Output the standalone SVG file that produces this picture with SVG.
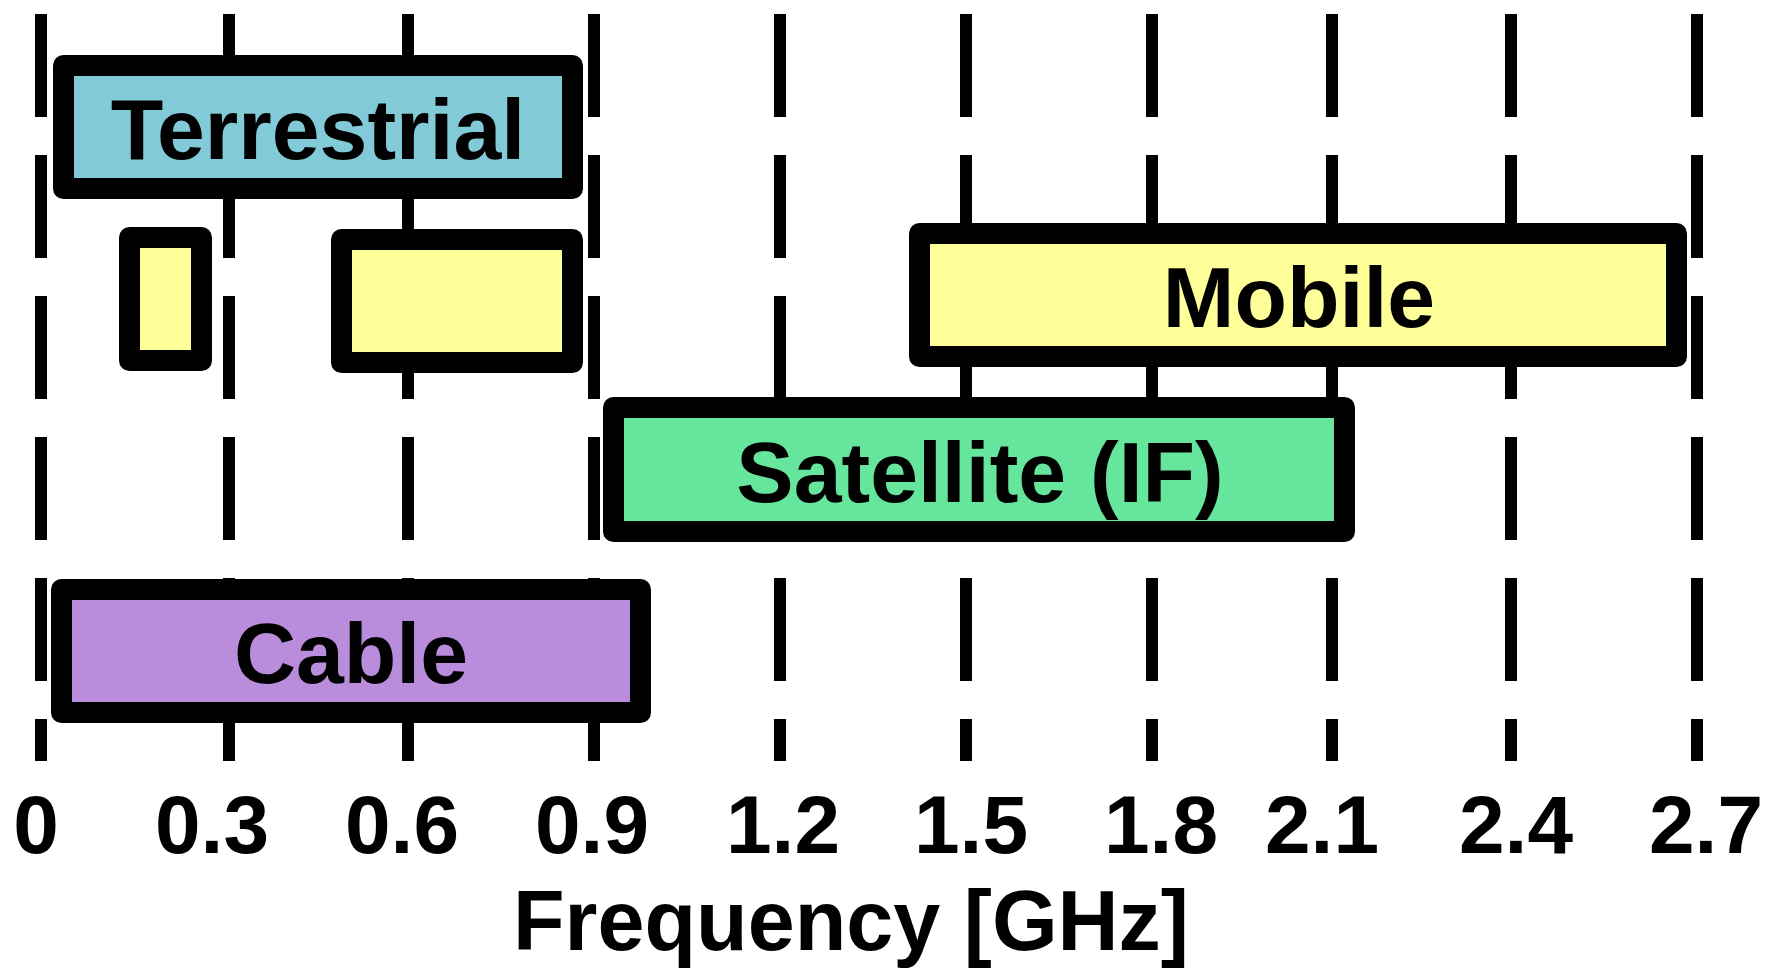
<svg xmlns="http://www.w3.org/2000/svg" width="1767" height="970" viewBox="0 0 1767 970">
<style>
.grid{stroke:#000;stroke-width:12;stroke-dasharray:103 38;fill:none}
.box{stroke:#000;stroke-width:21;stroke-linejoin:round}
.lbl{font-family:"Liberation Sans",Arial,sans-serif;font-weight:bold;font-size:86px;fill:#000;text-anchor:middle}
.tick{font-family:"Liberation Sans",Arial,sans-serif;font-weight:bold;font-size:82px;fill:#000;text-anchor:middle}
</style>
<rect width="1767" height="970" fill="#fff"/>
<g id="gridlines">
<line class="grid" x1="41" y1="14" x2="41" y2="761"/>
<line class="grid" x1="229" y1="14" x2="229" y2="761"/>
<line class="grid" x1="408" y1="14" x2="408" y2="761"/>
<line class="grid" x1="594" y1="14" x2="594" y2="761"/>
<line class="grid" x1="780" y1="14" x2="780" y2="761"/>
<line class="grid" x1="966" y1="14" x2="966" y2="761"/>
<line class="grid" x1="1152" y1="14" x2="1152" y2="761"/>
<line class="grid" x1="1332" y1="14" x2="1332" y2="761"/>
<line class="grid" x1="1511" y1="14" x2="1511" y2="761"/>
<line class="grid" x1="1697" y1="14" x2="1697" y2="761"/>
</g>
<g id="terrestrial">
<rect class="box" x="63.5" y="65.5" width="509" height="123" fill="#82CAD8"/>
<text class="lbl" x="318" y="159">Terrestrial</text>
</g>
<g id="terrestrial-band-1">
<rect class="box" x="129.5" y="237.5" width="72" height="123" fill="#FFFF99"/>
</g>
<g id="terrestrial-band-2">
<rect class="box" x="341.5" y="239.5" width="231" height="123" fill="#FFFF99"/>
</g>
<g id="mobile">
<rect class="box" x="919.5" y="233.5" width="757" height="123" fill="#FFFF99"/>
<text class="lbl" x="1299" y="327">Mobile</text>
</g>
<g id="satellite">
<rect class="box" x="613.5" y="407.5" width="731" height="124" fill="#66E59C"/>
<text class="lbl" x="980" y="502">Satellite (IF)</text>
</g>
<g id="cable">
<rect class="box" x="61.5" y="589.5" width="579" height="123" fill="#B98DDB"/>
<text class="lbl" x="351" y="683">Cable</text>
</g>
<g id="axis">
<text class="tick" x="36" y="853">0</text>
<text class="tick" x="212" y="853">0.3</text>
<text class="tick" x="402" y="853">0.6</text>
<text class="tick" x="592" y="853">0.9</text>
<text class="tick" x="783" y="853">1.2</text>
<text class="tick" x="971" y="853">1.5</text>
<text class="tick" x="1161" y="853">1.8</text>
<text class="tick" x="1322" y="853">2.1</text>
<text class="tick" x="1516" y="853">2.4</text>
<text class="tick" x="1706" y="853">2.7</text>
<text class="lbl" x="851" y="950" textLength="676" lengthAdjust="spacingAndGlyphs">Frequency [GHz]</text>
</g>
</svg>
